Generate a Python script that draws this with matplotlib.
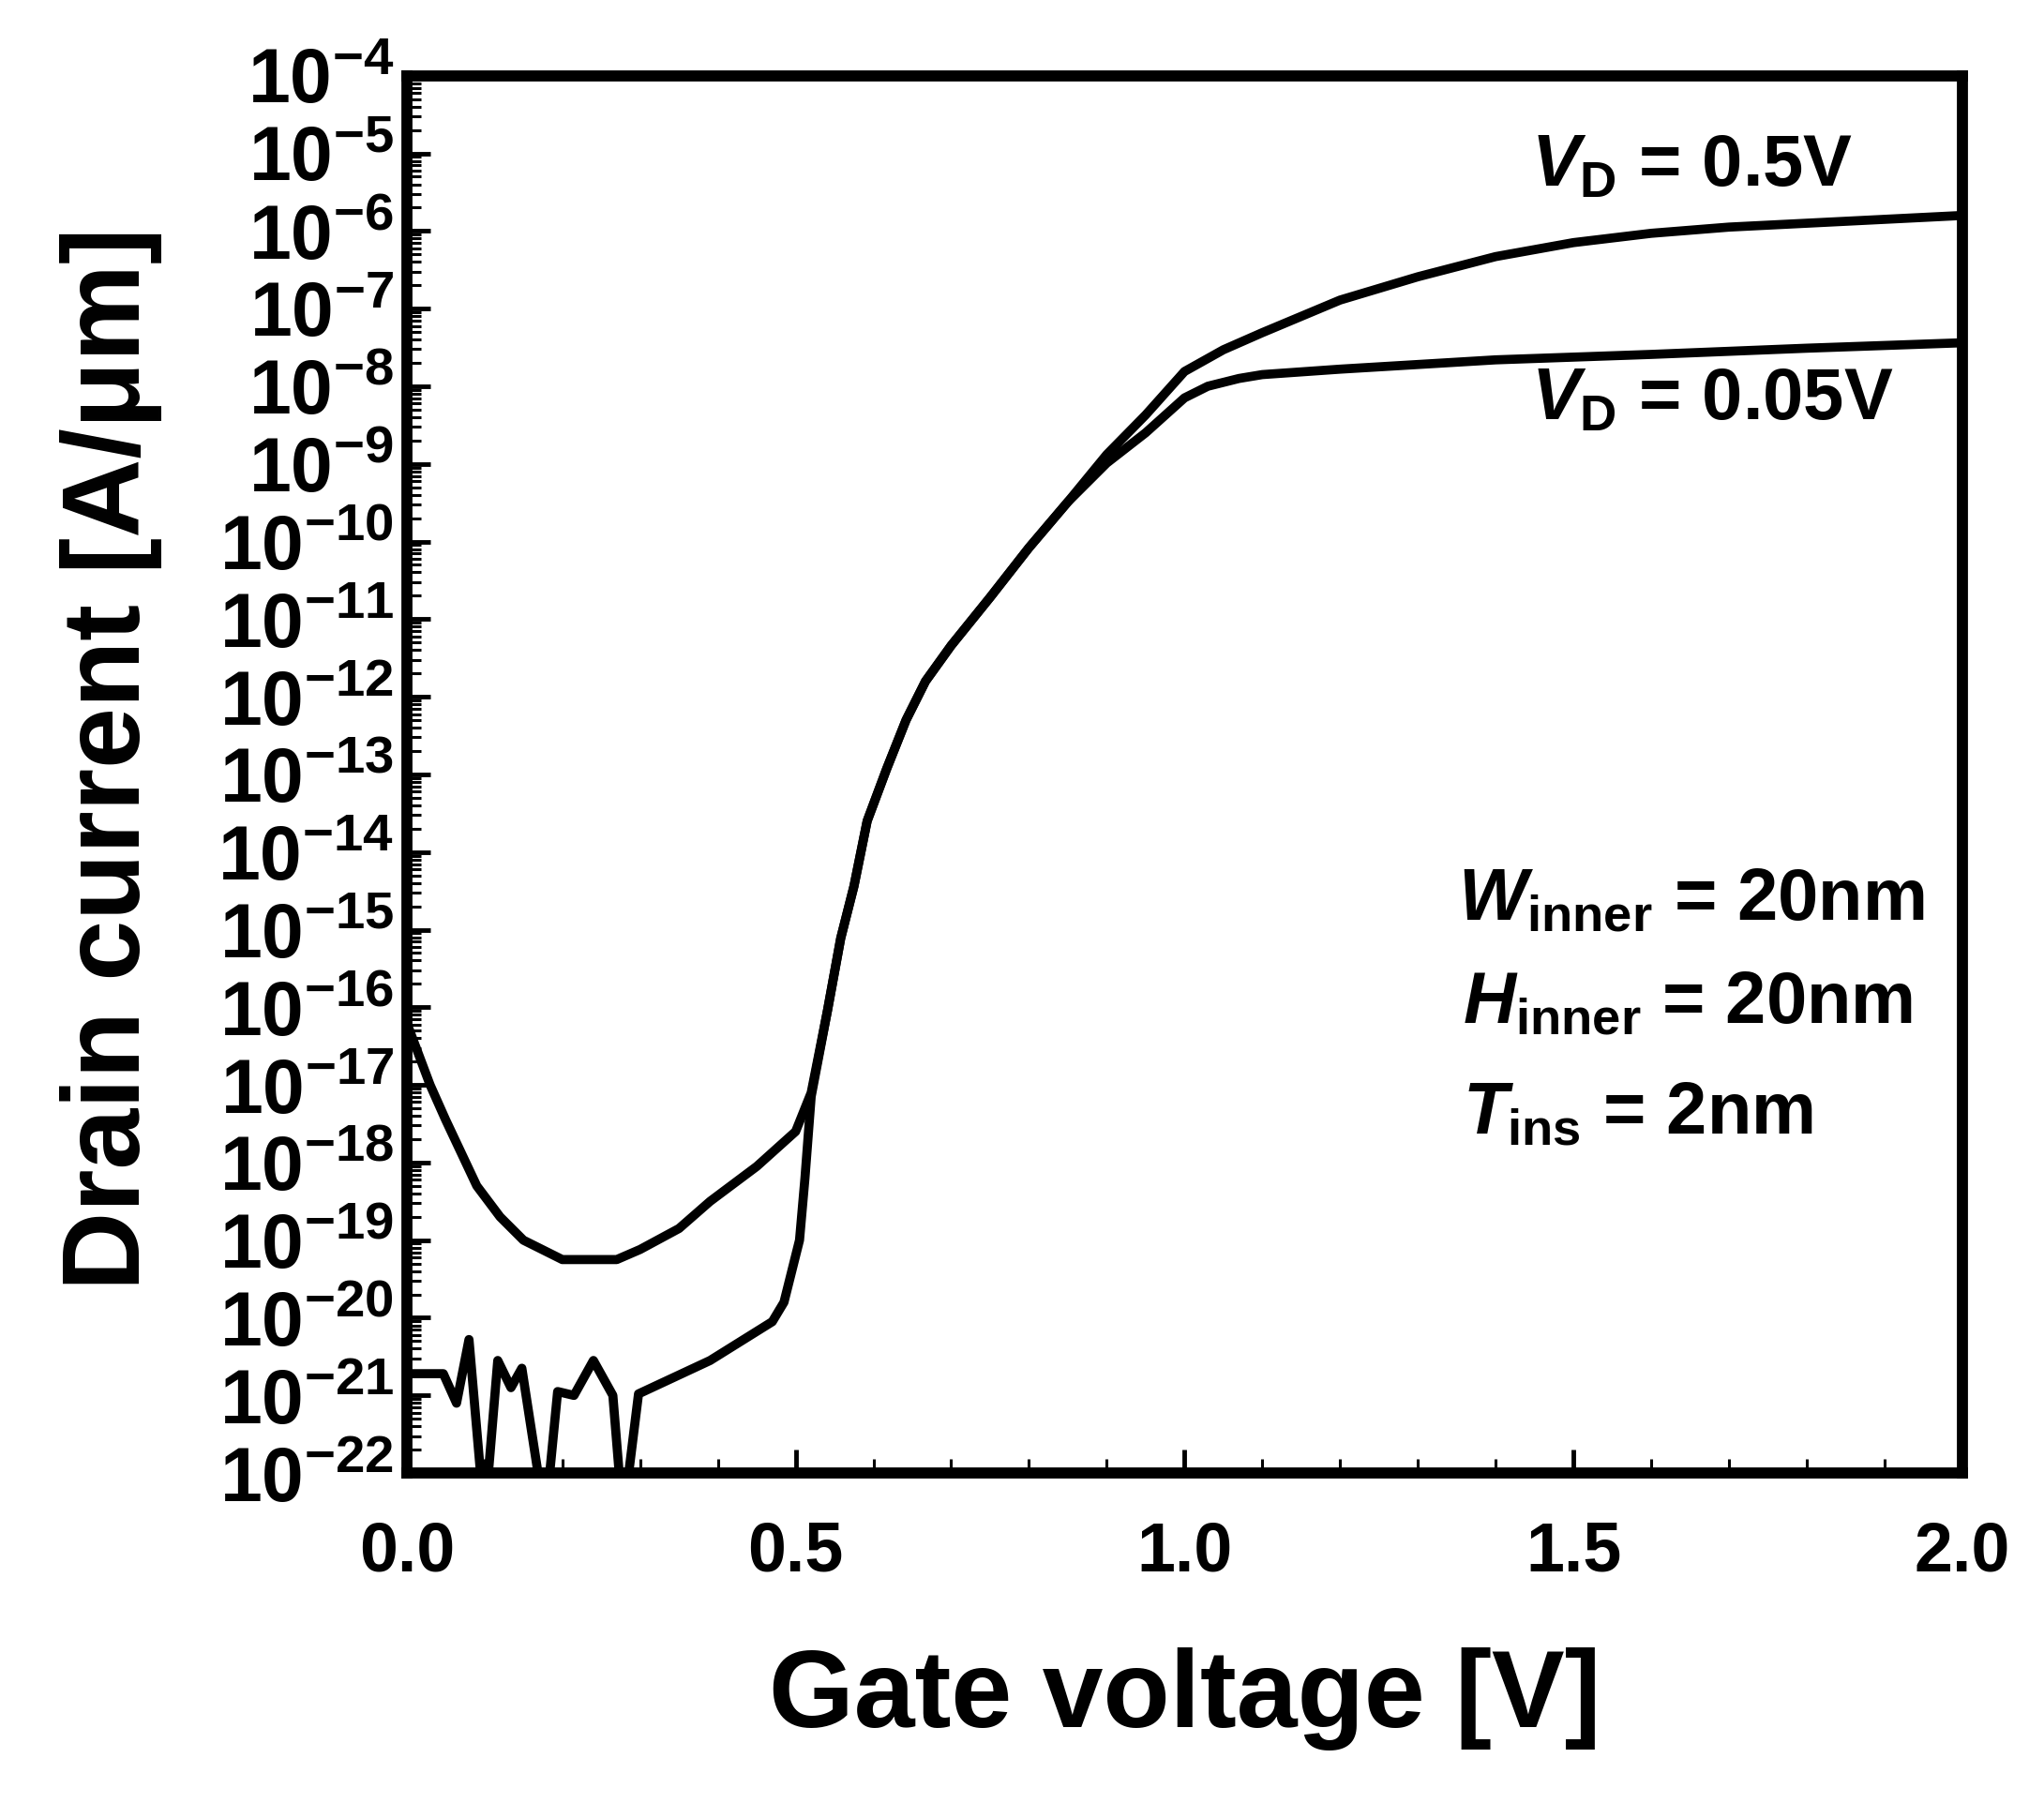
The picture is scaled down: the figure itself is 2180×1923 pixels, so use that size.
import numpy as np
import matplotlib
matplotlib.use('Agg')
import matplotlib.pyplot as plt
from matplotlib.ticker import LogLocator, MultipleLocator, NullFormatter, FormatStrFormatter

plt.rcParams['font.family'] = ['Liberation Sans', 'DejaVu Sans']
plt.rcParams['font.weight'] = 'bold'
plt.rcParams['mathtext.fontset'] = 'custom'
plt.rcParams['mathtext.rm'] = 'Liberation Sans:bold'
plt.rcParams['mathtext.bf'] = 'Liberation Sans:bold'
plt.rcParams['mathtext.it'] = 'Liberation Sans:italic:bold'

# VD = 0.5 V  (gate voltage [V], log10 of drain current [A/um])
vg_hi = [0.00, 0.03, 0.05, 0.09, 0.12, 0.15, 0.20, 0.27, 0.30, 0.35, 0.39, 0.45,
         0.50, 0.52, 0.541, 0.558, 0.575, 0.592, 0.617, 0.642, 0.667, 0.70, 0.75,
         0.80, 0.85, 0.90, 0.95, 1.00, 1.05, 1.10, 1.20, 1.30, 1.40, 1.50, 1.60,
         1.70, 1.80, 1.90, 2.00]
logid_hi = [-16.2, -17.0, -17.45, -18.3, -18.7, -19.0, -19.25, -19.25, -19.12, -18.85,
            -18.5, -18.05, -17.6, -17.1, -16.04, -15.11, -14.44, -13.6, -12.93, -12.3,
            -11.8, -11.34, -10.72, -10.08, -9.49, -8.88, -8.37, -7.81, -7.53, -7.31,
            -6.89, -6.59, -6.33, -6.15, -6.03, -5.95, -5.90, -5.85, -5.80]

# VD = 0.05 V  (noisy floor, dips fall below the axis)
vg_lo = [0.00, 0.047, 0.064, 0.08, 0.10, 0.117, 0.134, 0.148, 0.178, 0.194, 0.215,
         0.24, 0.265, 0.278, 0.298, 0.39, 0.47, 0.485, 0.505, 0.512, 0.52, 0.541,
         0.558, 0.575, 0.592, 0.617, 0.642, 0.667, 0.70, 0.75, 0.80, 0.85, 0.90,
         0.95, 1.00, 1.03, 1.07, 1.10, 1.20, 1.40, 1.60, 1.80, 2.00]
logid_lo = [-20.72, -20.72, -21.1, -20.28, -22.6, -20.55, -20.9, -20.65, -22.6, -20.95,
            -21.0, -20.55, -21.0, -22.6, -20.98, -20.55, -20.05, -19.8, -19.0, -18.2,
            -17.15, -16.04, -15.11, -14.44, -13.6, -12.93, -12.3, -11.8, -11.34,
            -10.72, -10.08, -9.49, -8.99, -8.6, -8.15, -8.0, -7.9, -7.85, -7.78,
            -7.66, -7.59, -7.51, -7.44]

xticks = [0.0, 0.5, 1.0, 1.5, 2.0]

fig = plt.figure(figsize=(21.8, 19.23), dpi=100)
ax = fig.add_axes([0.199, 0.183, 0.761, 0.775])

ax.plot(vg_hi, 10.0 ** np.array(logid_hi), color='k', lw=7)
ax.plot(vg_lo, 10.0 ** np.array(logid_lo), color='k', lw=7)

ax.set_yscale('log')
ax.set_xlim(0, 2)
ax.set_ylim(1e-22, 1e-4)
ax.yaxis.set_major_locator(LogLocator(base=10, numticks=40))
ax.yaxis.set_minor_locator(LogLocator(base=10, subs=np.arange(2, 10), numticks=40))
ax.yaxis.set_minor_formatter(NullFormatter())
ax.set_xticks(xticks)
ax.xaxis.set_minor_locator(MultipleLocator(0.1))
ax.xaxis.set_major_formatter(FormatStrFormatter('%.1f'))

ax.tick_params(which='both', direction='in', top=False, right=False)
ax.tick_params(which='major', length=18, width=3.5)
ax.tick_params(which='minor', length=11, width=2.2)
ax.tick_params(axis='y', which='major', labelsize=58, pad=10)
ax.tick_params(axis='x', which='major', labelsize=53, pad=36)
for s in ax.spines.values():
    s.set_linewidth(8.5)

ax.set_xlabel('Gate voltage [V]', fontsize=84, fontweight='bold')
ax.set_ylabel('Drain current [A/μm]', fontsize=84, fontweight='bold')
ax.xaxis.set_label_coords(0.5, -0.125)
ax.yaxis.label.set_va('center')
ax.yaxis.set_label_coords(-0.19, 0.511)

fs = 56
ax.text(0.723, 0.921, r'$\mathit{V}_{\mathrm{D}}$ = 0.5V', transform=ax.transAxes,
        fontsize=fs, ha='left', va='baseline')
ax.text(0.723, 0.754, r'$\mathit{V}_{\mathrm{D}}$ = 0.05V', transform=ax.transAxes,
        fontsize=fs, ha='left', va='baseline')
ax.text(0.676, 0.396, r'$\mathit{W}_{\mathrm{inner}}$ = 20nm', transform=ax.transAxes,
        fontsize=fs, ha='left', va='baseline')
ax.text(0.679, 0.322, r'$\mathit{H}_{\mathrm{inner}}$ = 20nm', transform=ax.transAxes,
        fontsize=fs, ha='left', va='baseline')
ax.text(0.679, 0.2425, r'$\mathit{T}_{\mathrm{ins}}$ = 2nm', transform=ax.transAxes,
        fontsize=fs, ha='left', va='baseline')

plt.savefig('out.png', dpi=100)
plt.close(fig)
